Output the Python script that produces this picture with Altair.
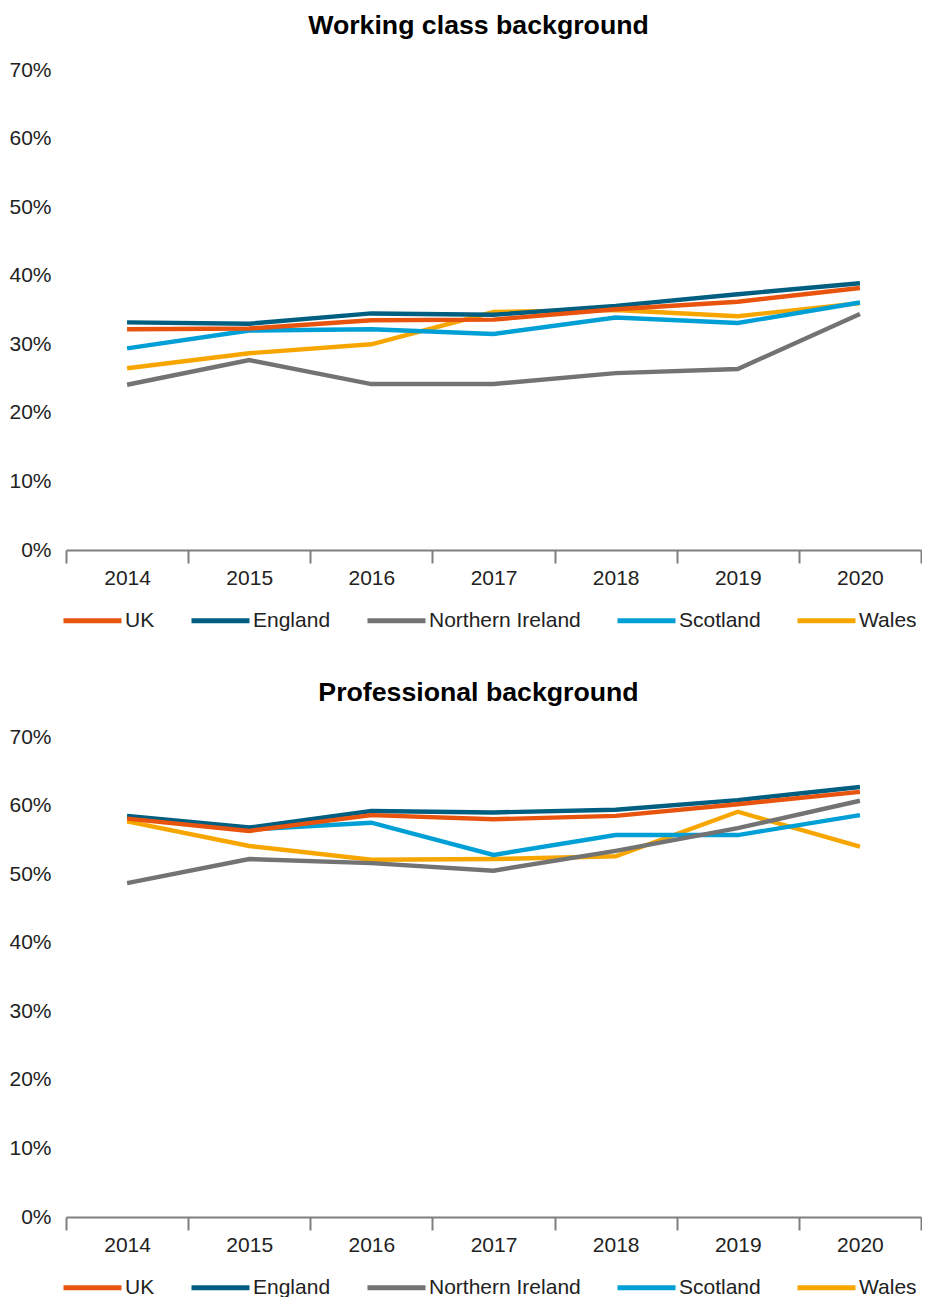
import altair as alt
import pandas as pd

years = ["2014", "2015", "2016", "2017", "2018", "2019", "2020"]
regions = ["UK", "England", "Northern Ireland", "Scotland", "Wales"]
colors = ["#E8530E", "#005F80", "#737373", "#00A0D6", "#F7A600"]
draw_order = ["Wales", "Scotland", "Northern Ireland", "England", "UK"]

# Working class background (share)
wc_uk = [0.322, 0.323, 0.335, 0.336, 0.351, 0.362, 0.382]
wc_england = [0.332, 0.330, 0.345, 0.343, 0.356, 0.373, 0.389]
wc_ni = [0.241, 0.277, 0.242, 0.242, 0.258, 0.264, 0.344]
wc_scotland = [0.294, 0.320, 0.322, 0.315, 0.339, 0.331, 0.361]
wc_wales = [0.265, 0.287, 0.300, 0.347, 0.350, 0.341, 0.360]

# Professional background (share)
pr_uk = [0.581, 0.563, 0.586, 0.580, 0.585, 0.602, 0.620]
pr_england = [0.585, 0.568, 0.592, 0.590, 0.594, 0.608, 0.627]
pr_ni = [0.487, 0.522, 0.516, 0.505, 0.534, 0.567, 0.607]
pr_scotland = [0.584, 0.565, 0.575, 0.528, 0.557, 0.557, 0.586]
pr_wales = [0.577, 0.541, 0.521, 0.522, 0.526, 0.591, 0.540]

FONT = "Liberation Sans"


def build_df(series):
    rows = []
    for name in draw_order:
        for y, v in zip(years, series[name]):
            rows.append({"Year": y, "Region": name, "Value": v})
    return pd.DataFrame(rows)


def panel(title, series):
    df = build_df(series)
    return (
        alt.Chart(df, title=alt.Title(title, fontSize=26.7, fontWeight="bold", font=FONT,
                                      color="#000000", anchor="middle", frame="group",
                                      offset=19, dx=-15))
        .mark_line(strokeWidth=4.4)
        .encode(
            x=alt.X("Year:O",
                    bandPosition=0.5,
                    scale=alt.Scale(type="band", paddingInner=0, paddingOuter=0),
                    axis=alt.Axis(title=None, tickBand="extent", labelAngle=0,
                                  domainColor="#7F7F7F", domainWidth=2,
                                  tickColor="#7F7F7F", tickWidth=2, tickSize=13,
                                  labelFontSize=21, labelFont=FONT, labelColor="#222222",
                                  labelPadding=4, grid=False)),
            y=alt.Y("Value:Q",
                    scale=alt.Scale(domain=[0, 0.7], nice=False),
                    axis=alt.Axis(title=None, format=".0%", values=[0, 0.1, 0.2, 0.3, 0.4, 0.5, 0.6, 0.7],
                                  domain=False, ticks=False, grid=False, labelPadding=15,
                                  labelFontSize=21, labelFont=FONT, labelColor="#222222")),
            color=alt.Color("Region:N",
                            scale=alt.Scale(domain=regions, range=colors),
                            legend=alt.Legend(title=None, orient="none", direction="horizontal",
                                              legendX=-5, legendY=519,
                                              symbolType="stroke", symbolSize=3364,
                                              symbolStrokeWidth=5, labelFontSize=21,
                                              labelFont=FONT, labelColor="#222222",
                                              labelOffset=1, columnPadding=26)),
            detail="Region:N",
        )
        .properties(width=855, height=480)
    )


top = panel("Working class background", {
    "UK": wc_uk, "England": wc_england, "Northern Ireland": wc_ni,
    "Scotland": wc_scotland, "Wales": wc_wales})
bottom = panel("Professional background", {
    "UK": pr_uk, "England": pr_england, "Northern Ireland": pr_ni,
    "Scotland": pr_scotland, "Wales": pr_wales})

chart = (
    alt.vconcat(top, bottom, spacing=49)
    .resolve_legend(color="independent")
    .configure(padding={"top": 5, "left": 0, "right": 0, "bottom": 0})
    .configure_view(stroke=None)
)

chart.save("out.html", embed_options={"renderer": "svg", "actions": False})
